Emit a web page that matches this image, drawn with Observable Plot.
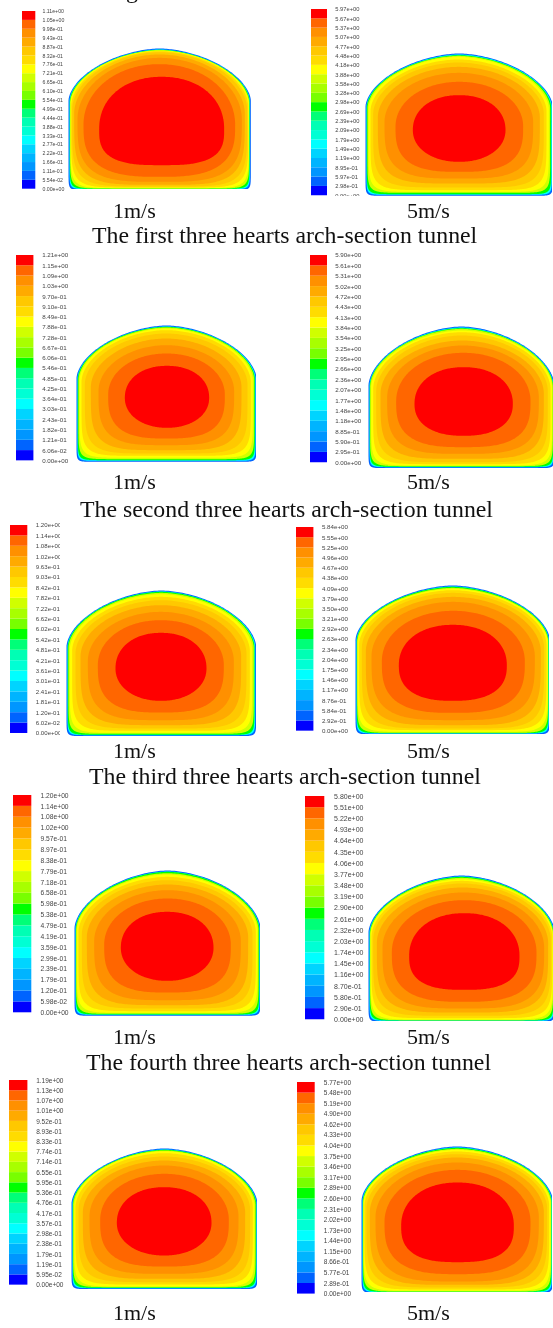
<!DOCTYPE html>
<html>
<head>
<meta charset="utf-8">
<script src="https://cdn.jsdelivr.net/npm/d3@7"></script>
<script src="https://cdn.jsdelivr.net/npm/@observablehq/plot@0.6"></script>
<style>
html,body{margin:0;padding:0;background:#fff}
#page{position:relative;width:553px;height:1328px;overflow:hidden;background:#fff}
#page svg{position:absolute;background:transparent;filter:blur(0.4px)}
.cap{position:absolute;font-family:"Liberation Serif",serif;color:#111;white-space:nowrap;line-height:1;filter:blur(0.2px)}
.speed{font-size:22px}
.title{font-size:23.8px}
</style>
</head>
<body>
<div id="page"></div>
<script>
// Swatch colours, bottom (lowest velocity) to top
const swatchColors = ["#0000ff","#0064ff","#0096ff","#00b4ff","#00d4ff","#00ffff","#00ffd4","#00ffb4","#00ff78","#00ff00",
  "#78ff00","#a8ff00","#d0ff00","#ffff00","#ffdc00","#ffc800","#ffaa00","#ff9000","#ff6600","#ff0000"];

// Colour-bar labels, top to bottom
const labels1a = ["1.11e+00","1.05e+00","9.98e-01","9.43e-01","8.87e-01","8.32e-01","7.76e-01","7.21e-01","6.65e-01","6.10e-01","5.54e-01","4.99e-01","4.44e-01","3.88e-01","3.33e-01","2.77e-01","2.22e-01","1.66e-01","1.11e-01","5.54e-02","0.00e+00"];
const labels1b = ["5.97e+00","5.67e+00","5.37e+00","5.07e+00","4.77e+00","4.48e+00","4.18e+00","3.88e+00","3.58e+00","3.28e+00","2.98e+00","2.69e+00","2.39e+00","2.09e+00","1.79e+00","1.49e+00","1.19e+00","8.95e-01","5.97e-01","2.98e-01","0.00e+00"];
const labels2a = ["1.21e+00","1.15e+00","1.09e+00","1.03e+00","9.70e-01","9.10e-01","8.49e-01","7.88e-01","7.28e-01","6.67e-01","6.06e-01","5.46e-01","4.85e-01","4.25e-01","3.64e-01","3.03e-01","2.43e-01","1.82e-01","1.21e-01","6.06e-02","0.00e+00"];
const labels2b = ["5.90e+00","5.61e+00","5.31e+00","5.02e+00","4.72e+00","4.43e+00","4.13e+00","3.84e+00","3.54e+00","3.25e+00","2.95e+00","2.66e+00","2.36e+00","2.07e+00","1.77e+00","1.48e+00","1.18e+00","8.85e-01","5.90e-01","2.95e-01","0.00e+00"];
const labels3a = ["1.20e+00","1.14e+00","1.08e+00","1.02e+00","9.63e-01","9.03e-01","8.42e-01","7.82e-01","7.22e-01","6.62e-01","6.02e-01","5.42e-01","4.81e-01","4.21e-01","3.61e-01","3.01e-01","2.41e-01","1.81e-01","1.20e-01","6.02e-02","0.00e+00"];
const labels3b = ["5.84e+00","5.55e+00","5.25e+00","4.96e+00","4.67e+00","4.38e+00","4.09e+00","3.79e+00","3.50e+00","3.21e+00","2.92e+00","2.63e+00","2.34e+00","2.04e+00","1.75e+00","1.46e+00","1.17e+00","8.76e-01","5.84e-01","2.92e-01","0.00e+00"];
const labels4a = ["1.20e+00","1.14e+00","1.08e+00","1.02e+00","9.57e-01","8.97e-01","8.38e-01","7.79e-01","7.18e-01","6.58e-01","5.98e-01","5.38e-01","4.79e-01","4.19e-01","3.59e-01","2.99e-01","2.39e-01","1.79e-01","1.20e-01","5.98e-02","0.00e+00"];
const labels4b = ["5.80e+00","5.51e+00","5.22e+00","4.93e+00","4.64e+00","4.35e+00","4.06e+00","3.77e+00","3.48e+00","3.19e+00","2.90e+00","2.61e+00","2.32e+00","2.03e+00","1.74e+00","1.45e+00","1.16e+00","8.70e-01","5.80e-01","2.90e-01","0.00e+00"];
const labels5a = ["1.19e+00","1.13e+00","1.07e+00","1.01e+00","9.52e-01","8.93e-01","8.33e-01","7.74e-01","7.14e-01","6.55e-01","5.95e-01","5.36e-01","4.76e-01","4.17e-01","3.57e-01","2.98e-01","2.38e-01","1.79e-01","1.19e-01","5.95e-02","0.00e+00"];
const labels5b = ["5.77e+00","5.48e+00","5.19e+00","4.90e+00","4.62e+00","4.33e+00","4.04e+00","3.75e+00","3.46e+00","3.17e+00","2.89e+00","2.60e+00","2.31e+00","2.02e+00","1.73e+00","1.44e+00","1.15e+00","8.66e-01","5.77e-01","2.89e-01","0.00e+00"];

// Contour bands drawn inside a tunnel: index into swatchColors, outermost first
const bandLevels = [1,5,9,12,13,14,15,16,17,18,19];
// How far each band sits inside the tunnel wall: left, right, crown, floor
const bands1a = [[0,3,4,5,6,8,11,17,27,45,92],[0,3,4,5,6,8,11,18,27,47,80],[0,3,4,5,6,8,11,18,28,47,85],[0,3,4,5,6,8,11,16,25,40,75]];
const bands1b = [[0,3,4,6,9,15,23,37,57,90,142],[0,3,5,8,12,19,27,39,59,89,142],[0,3,5,7,10,18,27,40,58,85,125],[0,3,5,9,12,17,25,37,52,72,102]];
const bands2a = [[0,3,4,6,9,15,25,43,66,95,145],[0,3,5,7,11,17,27,45,67,95,142],[0,3,4,6,9,14,24,39,59,84,121],[0,3,5,8,12,18,25,35,50,70,102]];
const bands2b = [[0,3,4,5,8,14,23,36,56,83,138],[0,3,4,5,7,12,20,32,47,72,125],[0,3,5,7,12,17,27,42,57,79,122],[0,3,4,6,8,12,18,28,43,63,97]];
const bands3a = [[0,3,4,6,10,17,27,42,64,94,147],[0,3,5,7,12,19,29,45,67,97,149],[0,3,4,7,11,19,29,44,64,89,127],[0,3,4,7,10,16,23,33,48,71,106]];
const bands3b = [[0,3,4,5,6,11,19,31,48,79,130],[0,3,4,5,6,10,17,27,45,75,129],[0,3,4,7,10,14,22,34,49,76,118],[0,3,4,5,8,13,18,28,43,65,101]];
const bands4a = [[0,3,4,5,7,12,22,37,59,89,139],[0,3,4,6,9,14,24,37,59,89,141],[0,3,4,8,12,19,29,42,59,84,124],[0,3,4,6,9,14,22,32,47,70,105]];
const bands4b = [[0,3,4,5,6,9,14,25,42,70,122],[0,3,4,5,6,8,12,20,32,55,106],[0,3,4,7,11,16,24,36,51,74,113],[0,3,4,5,7,11,18,28,40,60,96]];
const bands5a = [[0,3,4,5,8,12,21,34,54,86,136],[0,3,4,6,9,14,22,37,57,86,138],[0,3,4,6,8,14,24,36,51,76,116],[0,3,4,6,8,14,21,31,46,68,101]];
const bands5b = [[0,3,4,5,6,9,15,25,42,69,119],[0,3,4,5,7,11,17,27,42,67,117],[0,3,4,7,10,15,23,33,48,70,108],[0,3,4,5,7,11,17,25,35,57,93]];

const speeds = ["1m/s","5m/s"];
const titles = ["The first three hearts arch-section tunnel","The second three hearts arch-section tunnel","The third three hearts arch-section tunnel","The fourth three hearts arch-section tunnel"];

// Section size in reading units (1/3 px), spring line and red-core widest line (from crown)
const panels = [
 {bands:bands1a,labels:labels1a,W:547,H:425,spring:157,core:242,coreFloor:3.0, box:[68.3,47.7], bar:[21.7,11,13.3,177.7,41.7,5.2,600]},
 {bands:bands1b,labels:labels1b,W:562,H:427,spring:160,core:230,coreFloor:2.1, box:[365,53.3], bar:[311,8.7,16,186.3,334.7,5.8,1]},
 {bands:bands2a,labels:labels2a,W:540,H:409,spring:159,core:217,coreFloor:2.1, box:[75.7,325.3], bar:[16.3,255.3,17.4,205.4,42,6.2,600]},
 {bands:bands2b,labels:labels2b,W:558,H:425,spring:177,core:232,coreFloor:2.3, box:[368,326], bar:[310.3,255,17,207.3,335,6.2,600]},
 {bands:bands3a,labels:labels3a,W:569,H:437,spring:169,core:234,coreFloor:2.1, box:[66,590.3], bar:[9.7,525,17.3,208,35,6.1,600]},
 {bands:bands3b,labels:labels3b,W:583,H:447,spring:164,core:239,coreFloor:2.5, box:[354.7,585.3], bar:[296.3,527,17.4,203.7,321.7,6.2,600]},
 {bands:bands4a,labels:labels4a,W:558,H:436,spring:174,core:232,coreFloor:2.1, box:[73.7,870.3], bar:[12.7,795,18.3,217.3,39.7,6.7,600]},
 {bands:bands4b,labels:labels4b,W:559,H:439,spring:171,core:241,coreFloor:2.7, box:[367.7,874.7], bar:[304.7,795.7,19.3,223.3,333.3,7,600]},
 {bands:bands5a,labels:labels5a,W:558,H:422,spring:166,core:223,coreFloor:2.1, box:[71.3,1148], bar:[9.3,1080,18.4,204.7,36,6.5,600]},
 {bands:bands5b,labels:labels5b,W:574,H:440,spring:163,core:238,coreFloor:2.7, box:[361,1145.7], bar:[297,1081.7,17.7,211.6,323.3,6.5,600]}
];
// Shape of each band: crown and floor roundness, and drift from spring line to core line
const crownShape = [1.75,1.76,1.78,1.8,1.82,1.85,1.88,1.92,1.97,2.05,2.15];
const floorShape = [30,26,20,14,10,7.5,5.5,4.3,3.5,2.9,0];
const coreDrift  = [0,0,0.02,0.05,0.1,0.18,0.3,0.45,0.65,0.85,1];

const page = document.getElementById("page");
const clipRightLegend = 60; // third row's labels are cut by the picture next to them

function ringRows(p){
  const rows = [];
  const N = 300;
  bandLevels.forEach((lvl,i)=>{
    const l=p.bands[0][i], r=p.bands[1][i], t=p.bands[2][i], b=p.bands[3][i];
    const cx=(l+p.W-r)/2, a=(p.W-r-l)/2;
    const mid=p.spring+(p.core-p.spring)*coreDrift[i];
    const nC=crownShape[i], nF=i===bandLevels.length-1?p.coreFloor:floorShape[i];
    for(let k=0;k<N;k++){
      const th=k/N*2*Math.PI, c=Math.cos(th), s=Math.sin(th);
      const up=s>=0, n=up?nC:nF;
      rows.push({
        level:lvl, color:swatchColors[lvl],
        x:cx+a*Math.sign(c)*Math.pow(Math.abs(c),2/n),
        y:up? mid-(mid-t)*Math.pow(Math.abs(s),2/n) : mid+(p.H-b-mid)*Math.pow(Math.abs(s),2/n)
      });
    }
  });
  return rows;
}

function place(el,x,y){el.style.left=x+"px";el.style.top=y+"px";page.appendChild(el);}

panels.forEach((p,idx)=>{
  const w=p.W/3,h=p.H/3;
  const tunnel=Plot.plot({
    width:w,height:h,margin:0,
    x:{domain:[0,p.W],axis:null},
    y:{domain:[0,p.H],reverse:true,axis:null},
    color:{type:"identity"},
    marks:[Plot.line(ringRows(p),{x:"x",y:"y",z:"level",fill:"color",stroke:"none",curve:"linear-closed"})]
  });
  place(tunnel,p.box[0],p.box[1]);

  const [bx,by,bw,bh,lx,fs,mb]=p.bar;
  const mTop=6, mBottom=Math.min(mb,6);
  const span=idx===4?clipRightLegend-bx:lx-bx+34;
  const rows=swatchColors.map((c,i)=>({i,c}));
  const legend=Plot.plot({
    width:span,height:bh+mTop+mBottom,marginTop:mTop,marginBottom:mBottom,marginLeft:0,marginRight:0,
    x:{domain:[0,span],axis:null},
    y:{domain:[0,swatchColors.length],axis:null},
    color:{type:"identity"},
    marks:[
      Plot.rect(rows,{x1:0,x2:bw,y1:"i",y2:d=>d.i+1,fill:"c"}),
      Plot.text(p.labels,{x:lx-bx,y:(d,i)=>swatchColors.length-i,text:d=>d,textAnchor:"start",fontSize:fs,fontFamily:"Liberation Sans, Arial, sans-serif",fill:"#444"})
    ]
  });
  place(legend,bx,by-mTop);
});

// Captions
const speedRows = [218,489,758,1044,1320];
const speedX = [113,407];
speedRows.forEach(y=>speeds.forEach((s,i)=>{
  const d=document.createElement("div");d.className="cap speed";d.textContent=s;
  place(d,speedX[i],y-18);
}));
const titleRows = [[92,243],[80,517],[89,784],[86,1070]];
titles.forEach((t,i)=>{
  const d=document.createElement("div");d.className="cap title";d.textContent=t;
  place(d,titleRows[i][0],titleRows[i][1]-19);
});
const cut=document.createElement("div");cut.className="cap title";cut.textContent="g";
place(cut,126,-21);
</script>
</body>
</html>
